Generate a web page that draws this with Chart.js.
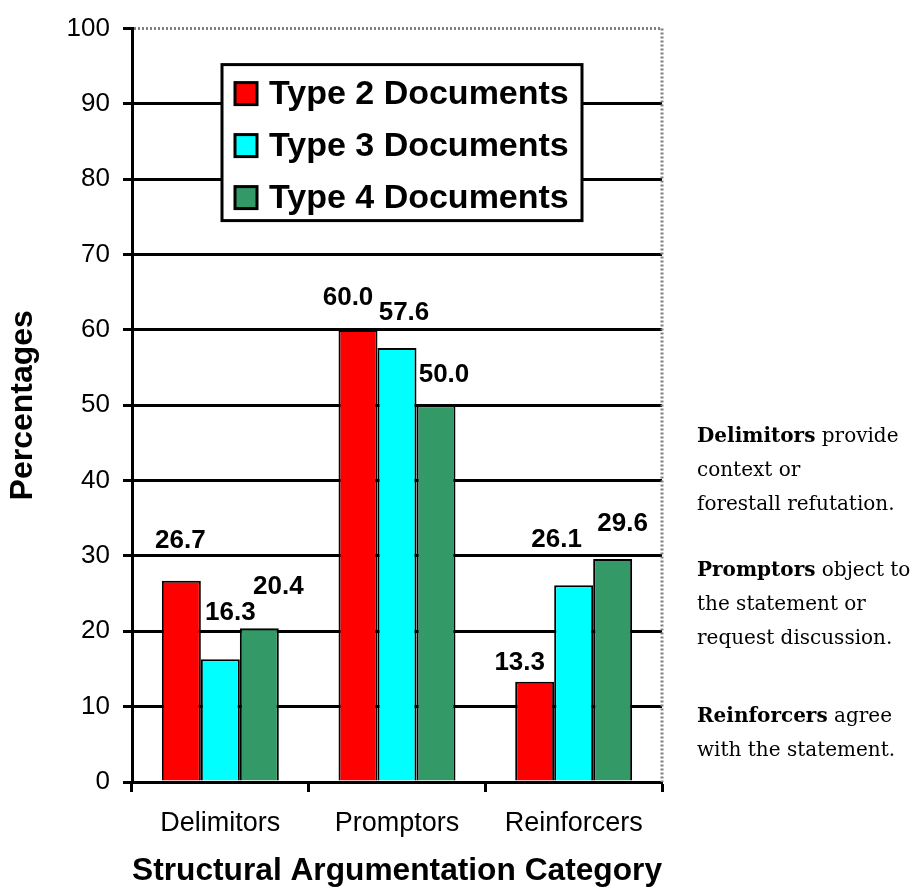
<!DOCTYPE html>
<html>
<head>
<meta charset="utf-8">
<script src="https://cdn.jsdelivr.net/npm/chart.js@4.4.1/dist/chart.umd.min.js"></script>
<style>
  body { margin: 0; background: #fff; }
  #wrap { position: relative; width: 914px; height: 890px; }
  #grafik { position: absolute; left: 0; top: 0; }
  .note {
    position: absolute; left: 697px; width: 220px;
    font-family: "DejaVu Serif", serif; font-size: 20px; line-height: 34px;
    color: #000; white-space: nowrap;
  }
  .note b { font-weight: bold; }
</style>
</head>
<body>
<div id="wrap">
  <canvas id="grafik" width="914" height="890"></canvas>
  <div class="note" style="top:418px"><b>Delimitors</b> provide<br>context or<br>forestall refutation.</div>
  <div class="note" style="top:552px"><b>Promptors</b> object to<br>the statement or<br>request discussion.</div>
  <div class="note" style="top:698px"><b>Reinforcers</b> agree<br>with the statement.</div>
</div>
<script>
// data
const kategori = ["Delimitors", "Promptors", "Reinforcers"];
const namaSeri = ["Type 2 Documents", "Type 3 Documents", "Type 4 Documents"];
const type2 = [26.7, 60.0, 13.3];
const type3 = [16.3, 57.6, 26.1];
const type4 = [20.4, 50.0, 29.6];
const yTicks = [0, 10, 20, 30, 40, 50, 60, 70, 80, 90, 100];

const warna = ["#ff0000", "#00ffff", "#339966"];
// label nudges (dx, dy from top of each bar), per series then per category
const geserLabel = [
  [[-1, -40], [-10, -32], [-15, -19]],
  [[10, -46], [7, -35], [-17, -46]],
  [[19, -41], [8, -30], [10, -35]]
];

const fontSans = "'Liberation Sans', Arial, sans-serif";

const labelPlugin = {
  id: 'labelNilai',
  beforeDatasetsDraw(chart) {
    // dotted top / right frame
    const { ctx, chartArea: a } = chart;
    ctx.save();
    ctx.strokeStyle = '#808080';
    ctx.lineWidth = 3;
    ctx.setLineDash([2, 2]);
    ctx.beginPath();
    ctx.moveTo(a.left + 2, a.top);
    ctx.lineTo(a.right, a.top);
    ctx.lineTo(a.right, a.bottom);
    ctx.stroke();
    ctx.restore();
  },
  afterDatasetsDraw(chart) {
    const { ctx, chartArea: a } = chart;
    ctx.save();
    ctx.fillStyle = '#000';
    ctx.font = "bold 26px " + fontSans;
    ctx.textAlign = 'center';
    ctx.textBaseline = 'middle';
    chart.data.datasets.forEach((ds, i) => {
      chart.getDatasetMeta(i).data.forEach((bar, j) => {
        const g = geserLabel[i][j];
        ctx.fillText(ds.data[j].toFixed(1), bar.x + g[0], bar.y + g[1]);
      });
    });

    // legend box
    const lx = a.left + 90, ly = a.top + 36, lw = 360, lh = 156;
    ctx.fillStyle = '#fff';
    ctx.fillRect(lx, ly, lw, lh);
    ctx.strokeStyle = '#000';
    ctx.lineWidth = 3;
    ctx.strokeRect(lx, ly, lw, lh);
    ctx.font = "bold 34px " + fontSans;
    ctx.textAlign = 'left';
    chart.data.datasets.forEach((ds, i) => {
      const cy = ly + 29 + i * 52;
      ctx.fillStyle = ds.backgroundColor;
      ctx.fillRect(lx + 13, cy - 11, 22, 22);
      ctx.strokeRect(lx + 13, cy - 11, 22, 22);
      ctx.fillStyle = '#000';
      ctx.fillText(ds.label, lx + 47, cy + 1);
    });
    ctx.restore();
  }
};

new Chart(document.getElementById('grafik'), {
  type: 'bar',
  data: {
    labels: kategori,
    datasets: [type2, type3, type4].map((d, i) => ({
      label: namaSeri[i],
      data: d,
      backgroundColor: warna[i],
      borderColor: '#000',
      borderWidth: 2,
      borderSkipped: 'bottom',
      categoryPercentage: 0.662,
      barPercentage: 1.0
    }))
  },
  options: {
    responsive: false,
    animation: false,
    devicePixelRatio: 1,
    layout: { padding: { top: 26, right: 252, left: 0, bottom: 0 } },
    plugins: { legend: { display: false }, tooltip: { enabled: false } },
    scales: {
      x: {
        afterFit: s => { s.height = 108; },
        border: { color: '#000', width: 3 },
        grid: { drawOnChartArea: false, drawTicks: true, tickLength: 10, tickColor: '#000', tickWidth: 3, offset: true },
        ticks: { color: '#000', font: { family: fontSans, size: 27 }, padding: 15, maxRotation: 0, autoSkip: false },
        title: {
          display: true, text: 'Structural Argumentation Category', color: '#000',
          font: { family: fontSans, size: 32, weight: 'bold' }, padding: { top: 0, bottom: 0 }
        }
      },
      y: {
        min: 0, max: 100,
        afterFit: s => { s.width = 132; },
        afterBuildTicks: s => { s.ticks = yTicks.map(v => ({ value: v })); },
        border: { color: '#000', width: 3 },
        grid: {
          color: c => (c.tick && c.tick.value === 100) ? 'rgba(0,0,0,0)' : '#000',
          lineWidth: 3, tickLength: 9, tickColor: '#000', tickWidth: 3
        },
        ticks: { color: '#000', font: { family: fontSans, size: 26 }, padding: 13 },
        title: {
          display: true, text: 'Percentages', color: '#000',
          font: { family: fontSans, size: 32, weight: 'bold' }, padding: { top: 4, bottom: 0 }
        }
      }
    }
  },
  plugins: [labelPlugin]
});
</script>
</body>
</html>
